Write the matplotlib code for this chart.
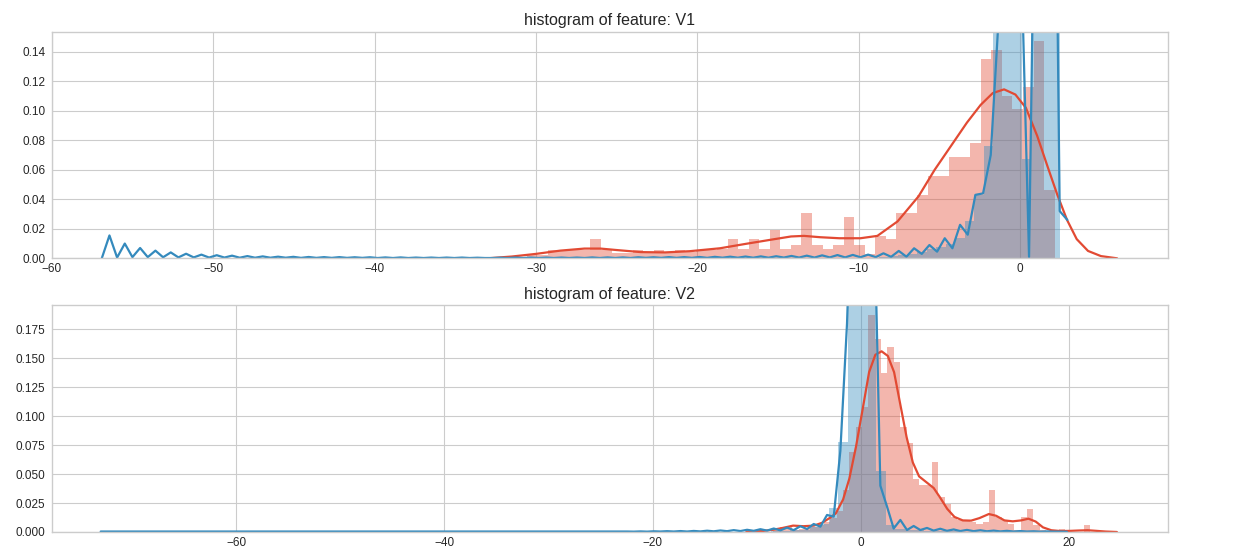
import matplotlib
matplotlib.use('Agg')
import matplotlib.pyplot as plt
import numpy as np

plt.style.use('seaborn-v0_8-whitegrid')
plt.rcParams['font.family'] = ['Liberation Sans', 'DejaVu Sans']

RED = '#E24A33'
BLUE = '#348ABD'

# ---- V1 ----
# fraud class, 50 bins
fraud_v1_range = (-30.55, 2.13)
fraud_v1_density = [
    0.002, 0.002, 0.0057, 0.0057, 0.0057, 0.0057, 0.013, 0.0057, 0.0038, 0.0038,
    0.0057, 0.0038, 0.0057, 0.0038, 0.0057, 0.0045, 0.0057, 0.0057, 0.006, 0.013,
    0.006, 0.013, 0.006, 0.019, 0.006, 0.009, 0.031, 0.009, 0.006, 0.009,
    0.028, 0.009, 0.003, 0.015, 0.013, 0.031, 0.031, 0.043, 0.056, 0.056,
    0.069, 0.069, 0.078, 0.135, 0.141, 0.110, 0.101, 0.116, 0.147, 0.0465]
fraud_v1_kde_x = [-33, -31.5, -30, -28.5, -27, -26, -25, -23.5, -22, -20.5,
                  -18.6, -17, -15.5, -14.2, -13.4, -12.4, -11.2, -9.9, -8.85,
                  -7.6, -6.3, -5.3, -4.3, -3.3, -2.45, -1.7, -1.0, -0.3, 0.35,
                  1.05, 1.7, 2.3, 2.9, 3.5, 4.2, 5.0, 6.0]
fraud_v1_kde_y = [0.0, 0.0012, 0.003, 0.0052, 0.0066, 0.0066, 0.0056, 0.0042,
                  0.0040, 0.0048, 0.0068, 0.0098, 0.0125, 0.0148, 0.0152,
                  0.0143, 0.0136, 0.0136, 0.0152, 0.025, 0.042, 0.060, 0.076,
                  0.092, 0.104, 0.112, 0.1145, 0.111, 0.102, 0.083, 0.062,
                  0.043, 0.026, 0.013, 0.005, 0.0015, 0.0]

# normal class, 100 bins
normal_v1_range = (-56.41, 2.45)
normal_v1_density = [
    0.0, 0.0, 0.0, 0.0, 0.0, 0.0, 0.0, 0.0, 0.0, 0.0,
    0.0, 0.0, 0.0, 0.0, 0.0, 0.0, 0.0, 0.0, 0.0, 0.0,
    0.0, 0.0, 0.0, 0.0, 0.0, 0.0, 0.0, 0.0, 0.0, 0.0,
    0.0, 0.0, 0.0, 0.0, 0.0, 0.0, 0.0, 0.0, 0.0, 0.0,
    0.0, 0.0, 0.0, 0.0, 0.0, 0.0, 0.0, 0.0, 0.0, 0.0,
    0.0, 0.0, 0.0, 0.0, 0.0, 0.0, 0.0, 0.0, 0.0, 0.0,
    0.0, 0.0, 0.0, 0.0, 0.0, 0.0, 0.0, 0.0, 0.0, 0.0,
    0.0, 0.0, 0.0, 0.0, 0.0, 0.0, 0.0, 0.0, 0.0, 0.0,
    0.0005, 0.001, 0.0015, 0.002, 0.003, 0.004, 0.006, 0.008, 0.010, 0.014,
    0.025, 0.043, 0.076, 0.30, 0.38, 0.33, 0.067, 0.40, 0.55, 0.35]
normal_v1_kde_span = (-56.9, 2.92)
normal_v1_kde_y = [
    0.0, 0.0155, 0.0005, 0.0100, 0.0008, 0.0070, 0.0008, 0.0052, 0.0007, 0.0040,
    0.0006, 0.0031, 0.0006, 0.0025, 0.0005, 0.0021, 0.0005, 0.0018, 0.0004, 0.0015,
    0.0004, 0.0013, 0.0004, 0.0011, 0.0004, 0.0010, 0.0003, 0.0009, 0.0003, 0.0008,
    0.0003, 0.0008, 0.0003, 0.0007, 0.0003, 0.0007, 0.0002, 0.0006, 0.0002, 0.0006,
    0.0002, 0.0005, 0.0002, 0.0005, 0.0002, 0.0005, 0.0002, 0.0005, 0.0002, 0.0004,
    0.0002, 0.0002, 0.0004, 0.0002, 0.0005, 0.0002, 0.0005, 0.0002, 0.0005, 0.0002,
    0.0005, 0.0002, 0.0005, 0.0002, 0.0006, 0.0002, 0.0006, 0.0002, 0.0006, 0.0002,
    0.0007, 0.0003, 0.0007, 0.0003, 0.0008, 0.0003, 0.0008, 0.0003, 0.0009, 0.0003,
    0.0010, 0.0004, 0.0011, 0.0004, 0.0012, 0.0004, 0.0013, 0.0004, 0.0014, 0.0005,
    0.0016, 0.0005, 0.0018, 0.0005, 0.0020, 0.0006, 0.0022, 0.0006, 0.0023, 0.0007,
    0.0025, 0.0008, 0.0034, 0.0010, 0.0050, 0.0011, 0.0068, 0.0030, 0.0090, 0.0045,
    0.0136, 0.0068, 0.0227, 0.0160, 0.0430, 0.0440, 0.0700, 0.1600, 0.5000, 0.4500,
    0.2000, 0.0010, 0.3600, 0.6000, 0.5000, 0.0320, 0.0260]

# ---- V2 ----
fraud_v2_range = (-8.40, 22.06)
fraud_v2_density = [
    0.002, 0.0046, 0.0046, 0.002, 0.003, 0.0035, 0.004, 0.006, 0.009, 0.012,
    0.018, 0.036, 0.069, 0.091, 0.108, 0.187, 0.167, 0.137, 0.160, 0.147,
    0.091, 0.077, 0.046, 0.041, 0.041, 0.060, 0.030, 0.024, 0.013, 0.010,
    0.010, 0.009, 0.007, 0.009, 0.036, 0.013, 0.010, 0.007, 0.002, 0.0127,
    0.020, 0.006, 0.002, 0.001, 0.0, 0.003, 0.0, 0.0, 0.0, 0.006]
fraud_v2_kde_x = [-11.0, -9.5, -8.5, -7.5, -6.5, -5.5, -4.5, -3.7, -3.0, -2.4,
                  -1.7, -1.1, -0.45, 0.2, 0.8, 1.4, 2.0, 2.6, 3.2, 3.8, 4.4,
                  5.0, 5.6, 6.3, 7.0, 7.6, 8.3, 9.0, 9.8, 10.6, 11.4, 12.3,
                  13.0, 13.8, 14.6, 15.4, 16.1, 16.8, 17.5, 18.3, 19.2, 20.2,
                  21.0, 21.8, 22.6, 23.5, 24.6]
fraud_v2_kde_y = [0.0, 0.0008, 0.0018, 0.0035, 0.0055, 0.005, 0.0055, 0.008,
                  0.012, 0.016, 0.028, 0.046, 0.074, 0.107, 0.138, 0.153,
                  0.156, 0.152, 0.138, 0.110, 0.082, 0.060, 0.048, 0.043,
                  0.038, 0.030, 0.020, 0.013, 0.010, 0.0098, 0.012, 0.0155,
                  0.014, 0.010, 0.0092, 0.010, 0.0115, 0.009, 0.004, 0.0015,
                  0.0008, 0.001, 0.0013, 0.0015, 0.001, 0.0004, 0.0]

normal_v2_range = (-72.72, 18.90)
normal_v2_density = [
    0.0, 0.0, 0.0, 0.0, 0.0, 0.0, 0.0, 0.0, 0.0, 0.0,
    0.0, 0.0, 0.0, 0.0, 0.0, 0.0, 0.0, 0.0, 0.0, 0.0,
    0.0, 0.0, 0.0, 0.0, 0.0, 0.0, 0.0, 0.0, 0.0, 0.0,
    0.0, 0.0, 0.0, 0.0, 0.0, 0.0, 0.0, 0.0, 0.0, 0.0,
    0.0, 0.0, 0.0, 0.0, 0.0, 0.0, 0.0, 0.0, 0.0, 0.0,
    0.0, 0.0, 0.0, 0.0, 0.0, 0.0, 0.0, 0.0, 0.0, 0.0,
    0.0, 0.0, 0.0, 0.0, 0.0, 0.0, 0.0, 0.0, 0.0, 0.0,
    0.0008, 0.001, 0.0015, 0.002, 0.004, 0.007, 0.0207, 0.078, 0.40, 0.50,
    0.40, 0.053, 0.006, 0.003, 0.002, 0.0015, 0.001, 0.0008, 0.0006, 0.0005,
    0.0004, 0.0003, 0.0003, 0.0003, 0.0, 0.0, 0.0, 0.0, 0.0, 0.0]
normal_v2_kde_span = (-73.0, 19.8)
normal_v2_kde_y = [
    0.0004, 0.0004, 0.0004, 0.0004, 0.0004, 0.0004, 0.0004, 0.0004, 0.0004, 0.0004,
    0.0004, 0.0004, 0.0004, 0.0004, 0.0004, 0.0004, 0.0004, 0.0004, 0.0004, 0.0004,
    0.0004, 0.0004, 0.0004, 0.0004, 0.0004, 0.0004, 0.0004, 0.0004, 0.0004, 0.0004,
    0.0004, 0.0004, 0.0004, 0.0004, 0.0004, 0.0004, 0.0004, 0.0004, 0.0004, 0.0004,
    0.0004, 0.0004, 0.0004, 0.0004, 0.0004, 0.0004, 0.0004, 0.0004, 0.0004, 0.0004,
    0.0004, 0.0004, 0.0004, 0.0004, 0.0004, 0.0004, 0.0004, 0.0004, 0.0004, 0.0004,
    0.0004, 0.0004, 0.0004, 0.0004, 0.0004, 0.0004, 0.0004, 0.0004, 0.0004, 0.0004,
    0.0004, 0.0004, 0.0004, 0.0004, 0.0004, 0.0004, 0.0004, 0.0004, 0.0004, 0.0004,
    0.0003, 0.0005, 0.0003, 0.0006, 0.0004, 0.0007, 0.0004, 0.0008, 0.0004, 0.0009,
    0.0005, 0.0011, 0.0006, 0.0013, 0.0007, 0.0016, 0.0008, 0.0019, 0.0010, 0.0024,
    0.0012, 0.0030, 0.0014, 0.0038, 0.0016, 0.0050, 0.0025, 0.0069, 0.0046, 0.0147,
    0.0132, 0.0700, 0.1800, 0.3500, 0.4500, 0.4500, 0.3000, 0.0400, 0.0220, 0.0030,
    0.0104, 0.0017, 0.0052, 0.0017, 0.0035, 0.0012, 0.0028, 0.0010, 0.0022, 0.0008,
    0.0018, 0.0007, 0.0015, 0.0006, 0.0012, 0.0005, 0.0010, 0.0004, 0.0008, 0.0004,
    0.0006, 0.0003, 0.0005, 0.0003, 0.0003, 0.0002]


def draw_hist(ax, data_range, density, color):
    edges = np.linspace(data_range[0], data_range[1], len(density) + 1)
    ax.bar(edges[:-1], density, width=np.diff(edges), align='edge',
           color=color, alpha=0.4, linewidth=0)


def draw_feature(ax, name, fraud, normal):
    f_range, f_dens, f_kx, f_ky = fraud
    n_range, n_dens, n_span, n_ky = normal
    draw_hist(ax, f_range, f_dens, RED)
    ax.plot(f_kx, f_ky, color=RED, lw=1.6)
    draw_hist(ax, n_range, n_dens, BLUE)
    grid_x = np.linspace(n_span[0], n_span[1], len(n_ky))
    ax.plot(grid_x, n_ky, color=BLUE, lw=1.6)
    ax.set_title('histogram of feature: ' + name, fontsize=11.5, pad=4.5)
    ax.tick_params(labelsize=8.5)
    ax.tick_params(axis='x', pad=3.5)
    ax.tick_params(axis='y', pad=4.5)


fig = plt.figure(figsize=(12.53, 5.51), dpi=100)
ax1 = fig.add_axes([0.0413, 0.5312, 0.8908, 0.4113])
ax2 = fig.add_axes([0.0413, 0.0345, 0.8908, 0.4120])

draw_feature(ax1, 'V1',
             (fraud_v1_range, fraud_v1_density, fraud_v1_kde_x, fraud_v1_kde_y),
             (normal_v1_range, normal_v1_density, normal_v1_kde_span, normal_v1_kde_y))
ax1.set_xlim(-60.0, 9.15)
ax1.set_ylim(0, 0.1536)
ax1.set_yticks(np.arange(0, 0.141, 0.02))

draw_feature(ax2, 'V2',
             (fraud_v2_range, fraud_v2_density, fraud_v2_kde_x, fraud_v2_kde_y),
             (normal_v2_range, normal_v2_density, normal_v2_kde_span, normal_v2_kde_y))
ax2.set_xlim(-77.7, 29.5)
ax2.set_ylim(0, 0.196)
ax2.set_yticks(np.arange(0, 0.176, 0.025))

fig.savefig('out.png', dpi=100)
